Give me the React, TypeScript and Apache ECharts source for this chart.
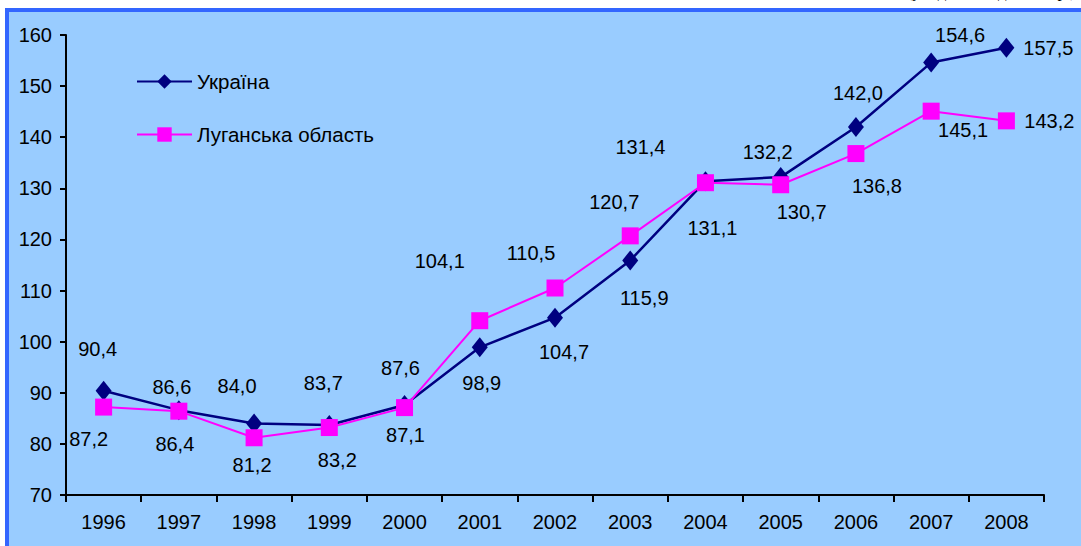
import React, { useEffect, useRef } from "react";
import * as echarts from "echarts";

const years = ["1996", "1997", "1998", "1999", "2000", "2001", "2002", "2003", "2004", "2005", "2006", "2007", "2008"];
const ukraine = [90.4, 86.6, 84.0, 83.7, 87.6, 98.9, 104.7, 115.9, 131.4, 132.2, 142.0, 154.6, 157.5];
const luhansk = [87.2, 86.4, 81.2, 83.2, 87.1, 104.1, 110.5, 120.7, 131.1, 130.7, 136.8, 145.1, 143.2];
const yTicks = { min: 70, max: 160, interval: 10 };
const seriesNames = ["Україна", "Луганська область"];
const unitNote = "(у відсотках до 1990 р.)";

// label placement offsets (px) relative to each point
const ukraineLabelOffsets = [
  [-6, -42], [-7, -23], [-17, -37], [-6, -42], [-4, -37], [2, 36], [9, 34],
  [14, 38], [-65, -34], [-13, -25], [2, -34], [29, -28], [42, 0],
];
const luhanskLabelOffsets = [
  [-15, 32], [-4, 33], [-2, 27], [8, 32], [1, 27], [-40, -60], [-24, -35],
  [-16, -34], [7, 45], [21, 27], [21, 32], [32, 19], [43, 0],
];

const FONT = "'Liberation Sans', Arial, sans-serif";
const fmt = (v: number) => v.toFixed(1).replace(".", ",");

function withLabels(values: number[], offsets: number[][]) {
  return values.map((v, i) => ({
    value: v,
    label: { offset: offsets[i] },
  }));
}

export default function App() {
  const ref = useRef<HTMLDivElement>(null);
  useEffect(() => {
    document.body.style.margin = "0";
    const chart = echarts.init(ref.current!, null, { renderer: "svg" });
    const labelBase = {
      show: true,
      position: "inside",
      align: "center",
      verticalAlign: "middle",
      color: "#000",
      fontSize: 20,
      fontFamily: FONT,
      formatter: (p: any) => fmt(p.value),
    };
    chart.setOption({
      animation: false,
      backgroundColor: "#fff",
      graphic: [
        {
          type: "rect",
          shape: { x: 7, y: 10, width: 1100, height: 600 },
          style: { fill: "#99CCFF", stroke: "#3366FF", lineWidth: 4 },
          z: -10,
          silent: true,
        },
        {
          type: "text",
          right: 5,
          top: -17,
          style: { text: unitNote, fontSize: 17, fontFamily: "'Liberation Serif', serif", fill: "#000" },
          z: -5,
        },
      ],
      legend: {
        orient: "vertical",
        left: 131,
        top: 66,
        itemWidth: 55,
        itemHeight: 18,
        itemGap: 32,
        data: seriesNames,
        textStyle: { fontSize: 20.5, fontFamily: FONT, color: "#000" },
      },
      grid: { left: 66, right: 37, top: 35, bottom: 51 },
      xAxis: {
        type: "category",
        data: years,
        boundaryGap: true,
        axisLine: { lineStyle: { color: "#000", width: 2 } },
        axisTick: { show: true, length: 7, alignWithLabel: false, lineStyle: { color: "#000", width: 2 } },
        axisLabel: { color: "#000", fontSize: 20, fontFamily: FONT, margin: 17 },
        splitLine: { show: false },
      },
      yAxis: {
        type: "value",
        min: yTicks.min,
        max: yTicks.max,
        interval: yTicks.interval,
        axisLine: { show: true, lineStyle: { color: "#000", width: 2 } },
        axisTick: { show: true, length: 6, lineStyle: { color: "#000", width: 2 } },
        axisLabel: { color: "#000", fontSize: 20, fontFamily: FONT, margin: 14 },
        splitLine: { show: false },
      },
      series: [
        {
          name: seriesNames[0],
          type: "line",
          data: withLabels(ukraine, ukraineLabelOffsets),
          color: "#000080",
          lineStyle: { color: "#000080", width: 2.5 },
          itemStyle: { color: "#000080" },
          symbol: "diamond",
          symbolSize: [16, 20],
          label: labelBase,
          z: 3,
        },
        {
          name: seriesNames[1],
          type: "line",
          data: withLabels(luhansk, luhanskLabelOffsets),
          color: "#FF00FF",
          lineStyle: { color: "#FF00FF", width: 2 },
          itemStyle: { color: "#FF00FF" },
          symbol: "rect",
          symbolSize: 17,
          label: labelBase,
          z: 4,
        },
      ],
    });
    return () => chart.dispose();
  }, []);
  return <div ref={ref} style={{ width: 1081, height: 546 }} />;
}
